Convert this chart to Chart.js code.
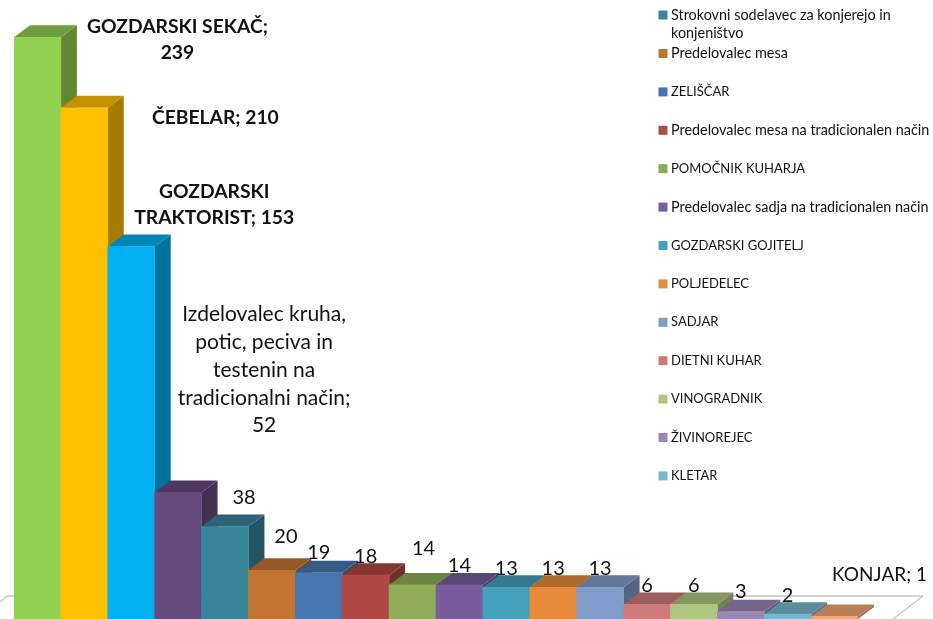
<!DOCTYPE html>
<html>
<head>
<meta charset="utf-8">
<style>
  html, body { margin: 0; padding: 0; background: #fff; overflow: hidden; }
  #wrap { width: 933px; height: 619px; }
</style>
<script src="https://cdn.jsdelivr.net/npm/chart.js@4"></script>
</head>
<body>
<div id="wrap"><canvas id="chart"></canvas></div>
<script>
const categories = ['GOZDARSKI SEKAČ', 'ČEBELAR', 'GOZDARSKI TRAKTORIST', 'Izdelovalec kruha, potic, peciva in testenin na tradicionalni način',
    'Strokovni sodelavec za konjerejo in konjeništvo', 'Predelovalec mesa', 'ZELIŠČAR', 'Predelovalec mesa na tradicionalen način',
    'POMOČNIK KUHARJA', 'Predelovalec sadja na tradicionalen način', 'GOZDARSKI GOJITELJ', 'POLJEDELEC', 'SADJAR', 'DIETNI KUHAR',
    'VINOGRADNIK', 'ŽIVINOREJEC', 'KLETAR', 'KONJAR'];
const counts = [239, 210, 153, 52, 38, 20, 19, 18, 14, 14, 13, 13, 13, 6, 6, 3, 2, 1];
const barColors = ['#92D050', '#FFC000', '#00B0F0', '#654B7D', '#3A849C', '#C27433', '#4776B0', '#B04845', '#8FAC56',
    '#775D9B', '#46A1BB', '#E88B3D', '#7F9CCB', '#CC7B7A', '#AEC680', '#9A85B7', '#76B8D0', '#F4A772'];

// wrapped text of the labels next to the bars
const labelLines = [['GOZDARSKI SEKAČ;', '239'], ['ČEBELAR; 210'], ['GOZDARSKI', 'TRAKTORIST; 153'],
    ['Izdelovalec kruha,', 'potic, peciva in', 'testenin na', 'tradicionalni način;', '52'],
    ['38'], ['20'], ['19'], ['18'], ['14'], ['14'], ['13'], ['13'], ['13'], ['6'], ['6'], ['3'], ['2'], ['KONJAR; 1']];
// offset of each label from the top centre of its bar
const labelOffsets = [[140, -10], [131, 10], [83, -55], [86, -178], [19, -29], [14, -34], [0, -20], [0, -19], [11, -36],
    [0, -19], [0, -19], [0, -19], [0, -19], [0, -19], [0, -19], [0, -20], [0, -19], [45, -42]];
const labelFonts = ['bold 19.3px Lato', 'bold 19.3px Lato', 'bold 19.3px Lato', '21px Lato', '20px Lato', '20px Lato', '20px Lato',
    '20px Lato', '20px Lato', '20px Lato', '20px Lato', '20px Lato', '20px Lato', '20px Lato', '20px Lato', '20px Lato', '20px Lato', '19px Lato'];

const legendStart = 4, legendEnd = 17;
const legendWrap = ['Strokovni sodelavec za konjerejo in', 'konjeništvo'];

function shade(hex, f) {
    const n = parseInt(hex.slice(1), 16);
    return `rgb(${Math.round((n >> 16) * f)},${Math.round(((n >> 8) & 255) * f)},${Math.round((n & 255) * f)})`;
}

// floor behind the bars and the 3D side/top of each bar
const depthPlugin = {
    id: 'depth',
    beforeDatasetsDraw(chart) {
        const ctx = chart.ctx, bottom = chart.chartArea.bottom, dx = 16, dy = 12;
        ctx.save();
        ctx.strokeStyle = '#A6A6A6';
        ctx.lineWidth = 1;
        ctx.beginPath();
        ctx.moveTo(0, bottom - 17);
        ctx.lineTo(7, bottom - 23);
        ctx.lineTo(923, bottom - 23);
        ctx.lineTo(893, bottom);
        ctx.stroke();
        chart.getDatasetMeta(0).data.forEach((bar, i) => {
            const right = bar.x + bar.width / 2, left = bar.x - bar.width / 2;
            ctx.fillStyle = shade(barColors[i], 0.65);
            ctx.beginPath();
            ctx.moveTo(right, bar.y);
            ctx.lineTo(right + dx, bar.y - dy);
            ctx.lineTo(right + dx, bar.base - dy);
            ctx.lineTo(right, bar.base);
            ctx.fill();
            ctx.fillStyle = shade(barColors[i], 0.76);
            ctx.beginPath();
            ctx.moveTo(left, bar.y);
            ctx.lineTo(left + dx, bar.y - dy);
            ctx.lineTo(right + dx, bar.y - dy);
            ctx.lineTo(right, bar.y);
            ctx.fill();
        });
        ctx.restore();
    },
    afterDatasetsDraw(chart) {
        const ctx = chart.ctx;
        ctx.save();
        ctx.fillStyle = '#111';
        ctx.textAlign = 'center';
        ctx.textBaseline = 'middle';
        chart.getDatasetMeta(0).data.forEach((bar, i) => {
            ctx.font = labelFonts[i];
            labelLines[i].forEach((line, n) => {
                ctx.fillText(line, bar.x + labelOffsets[i][0], bar.y + labelOffsets[i][1] + n * (i < 3 ? 26 : 27.8));
            });
        });

        // legend, the picture only shows these entries
        ctx.textAlign = 'left';
        for (let i = legendStart; i < legendEnd; i++) {
            const y = i === legendStart ? 15 : 53.5 + (i - legendStart - 1) * 38.4;
            const name = categories[i];
            ctx.fillStyle = barColors[i];
            ctx.fillRect(658.5, y - 4.5, 9, 9);
            ctx.fillStyle = '#111';
            // capitals run wider in Lato than in the original font
            ctx.font = name === name.toUpperCase() ? '13px Lato' : '14.4px Lato';
            if (i === legendStart) {
                legendWrap.forEach((line, n) => ctx.fillText(line, 671, y + n * 18.5));
            } else {
                ctx.fillText(name, 671, y);
            }
        }
        ctx.restore();
    }
};

new Chart(document.getElementById('chart').getContext('2d'), {
    type: 'bar',
    data: {
        labels: categories,
        datasets: [{ data: counts, backgroundColor: barColors, categoryPercentage: 1, barPercentage: 1 }]
    },
    options: {
        responsive: true,
        maintainAspectRatio: false,
        animation: false,
        layout: { padding: { left: 14, right: 75, top: 10.5, bottom: 0 } },
        plugins: { legend: { display: false }, tooltip: { enabled: false } },
        scales: {
            x: { display: false },
            y: { display: false, min: 0, max: 250 }
        }
    },
    plugins: [depthPlugin]
});
</script>
</body>
</html>
